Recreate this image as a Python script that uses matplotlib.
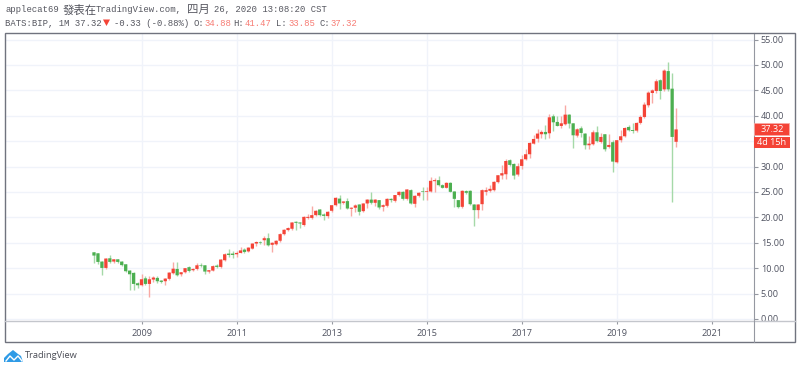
# BIP monthly candles, TradingView snapshot

import matplotlib
matplotlib.use("Agg")
import numpy as np
import matplotlib.pyplot as plt
from matplotlib.patches import Rectangle, Polygon

# Monthly bars, Jan 2008 to Apr 2020
opens = [13.13, 12.93, 11.3, 10.05, 11.95, 11.3, 11.75, 11.3, 10.77, 9.53, 9.07, 7.03,
         6.64, 8.0, 6.9, 7.76, 8.08, 7.56, 7.43, 7.9, 9.0, 9.85, 8.8, 9.2,
         10.2, 9.6, 9.85, 10.57, 10.57, 9.33, 9.53, 10.5, 10.25, 11.56, 12.87, 12.87,
         12.74, 13.0, 13.65, 13.3, 13.85, 14.85, 15.1, 15.5, 15.9, 14.6, 14.7, 15.4,
         16.7, 17.5, 17.76, 19.13, 19.0, 18.5, 19.9, 19.9, 20.44, 21.56, 20.57, 20.25,
         21.3, 22.4, 23.7, 22.87, 23.2, 21.7, 21.9, 22.54, 21.23, 22.74, 23.5, 22.87,
         23.4, 22.08, 22.28, 23.65, 23.26, 24.4, 25.03, 23.65, 25.36, 22.67, 24.25, 25.1,
         25.03, 25.1, 27.13, 27.33, 26.34, 25.82, 26.8, 25.1, 23.4, 22.08, 25.17, 25.23,
         22.54, 21.43, 22.6, 25.03, 25.23, 25.36, 26.94, 28.25, 28.49, 31.25, 30.52, 28.43,
         30.13, 31.44, 32.43, 34.52, 35.5, 36.37, 36.82, 36.56, 39.9, 38.79, 38.0, 38.33,
         40.23, 38.52, 36.1, 37.54, 36.5, 34.2, 34.4, 36.75, 34.85, 36.37, 33.87, 34.8,
         30.85, 35.2, 35.97, 37.8, 37.2, 37.08, 38.6, 39.77, 42.07, 44.49, 44.89, 47.0,
         45.2, 48.8, 45.34, 34.88]
highs = [13.2, 13.0, 11.4, 12.0, 12.55, 11.9, 11.9, 11.5, 10.9, 9.7, 9.2, 7.3,
         8.93, 8.5, 8.5, 8.4, 8.4, 7.7, 8.1, 9.3, 11.2, 11.2, 9.3, 10.1,
         10.4, 10.0, 11.1, 11.1, 10.7, 9.7, 10.7, 10.8, 11.8, 12.9, 13.85, 13.4,
         13.4, 14.25, 14.0, 14.2, 15.0, 15.4, 15.3, 16.3, 16.9, 15.2, 15.6, 16.9,
         17.7, 18.1, 19.1, 19.2, 19.1, 20.2, 20.64, 22.2, 21.5, 21.7, 20.8, 21.2,
         22.5, 24.0, 24.5, 23.3, 23.9, 22.0, 22.6, 22.7, 22.9, 23.7, 24.9, 23.6,
         23.5, 22.6, 23.8, 23.9, 24.5, 25.2, 25.1, 25.6, 25.5, 24.4, 25.0, 25.9,
         26.0, 28.0, 27.85, 28.1, 26.5, 27.0, 27.0, 25.2, 23.5, 25.4, 25.4, 25.3,
         22.7, 22.7, 25.5, 26.0, 26.3, 27.1, 28.4, 30.26, 31.57, 31.4, 30.7, 30.72,
         32.23, 33.54, 34.8, 36.16, 37.47, 37.15, 38.13, 40.3, 40.43, 39.97, 40.0, 42.07,
         40.3, 38.6, 37.5, 37.93, 36.6, 36.0, 37.15, 38.0, 36.7, 36.5, 36.5, 35.3,
         35.3, 37.28, 37.7, 38.2, 38.6, 38.7, 40.23, 42.7, 44.9, 45.34, 47.3, 47.25,
         49.15, 50.5, 48.5, 41.47]
lows = [11.03, 10.9, 8.74, 9.9, 11.1, 11.03, 11.1, 10.4, 9.2, 5.66, 5.66, 6.18,
        6.5, 6.64, 4.35, 7.3, 7.1, 7.1, 6.64, 7.7, 8.8, 8.5, 8.4, 9.1,
        9.3, 9.4, 9.7, 10.3, 8.93, 9.1, 9.4, 10.1, 10.1, 11.4, 12.2, 12.08,
        12.2, 12.9, 13.0, 13.1, 13.7, 14.4, 14.8, 14.5, 14.4, 13.2, 14.5, 15.2,
        16.5, 17.3, 17.6, 17.6, 17.9, 18.3, 19.7, 19.6, 20.3, 20.3, 19.46, 19.8,
        21.1, 22.2, 21.56, 22.6, 21.6, 20.3, 21.1, 20.44, 21.0, 21.75, 22.7, 22.3,
        21.56, 21.23, 22.1, 23.1, 23.1, 24.2, 23.5, 23.4, 22.6, 21.95, 24.0, 23.4,
        23.4, 25.0, 25.0, 26.2, 25.7, 25.7, 24.9, 22.08, 21.9, 21.9, 24.7, 22.5,
        18.28, 19.92, 21.4, 24.5, 25.0, 25.2, 26.7, 27.6, 27.64, 30.2, 27.64, 28.2,
        29.6, 31.3, 31.7, 34.4, 34.85, 35.7, 35.5, 35.7, 37.0, 37.9, 37.67, 38.2,
        37.67, 33.67, 35.84, 35.84, 33.41, 33.54, 34.3, 34.9, 34.7, 33.0, 33.67, 28.95,
        30.7, 34.9, 35.8, 37.0, 36.69, 36.9, 38.4, 39.6, 41.74, 42.6, 44.5, 43.25,
        44.9, 44.9, 23.05, 33.85]
closes = [12.48, 11.23, 10.05, 11.9, 11.23, 11.75, 11.23, 10.6, 9.4, 8.8, 6.9, 6.64,
          7.82, 6.9, 7.82, 8.15, 7.43, 7.3, 7.95, 9.13, 9.9, 8.6, 9.2, 10.0,
          9.45, 9.85, 10.57, 10.5, 9.33, 9.6, 10.4, 10.25, 11.7, 12.74, 12.6, 12.6,
          13.0, 13.5, 13.2, 14.05, 14.85, 15.15, 15.0, 15.9, 14.5, 15.0, 15.4, 16.7,
          17.56, 17.9, 19.0, 18.93, 18.8, 20.1, 20.1, 20.44, 21.3, 20.44, 20.3, 21.1,
          22.4, 23.85, 22.74, 23.13, 21.75, 21.9, 22.35, 21.1, 22.74, 23.5, 22.87, 23.5,
          21.95, 22.4, 23.65, 23.4, 24.4, 25.03, 23.65, 25.5, 22.74, 24.25, 24.84, 25.03,
          25.17, 27.2, 27.33, 26.34, 25.82, 26.8, 25.03, 23.65, 22.02, 25.23, 24.84, 22.6,
          21.43, 22.54, 25.36, 25.36, 25.62, 27.0, 28.3, 28.7, 31.1, 30.33, 28.23, 30.07,
          31.44, 32.43, 34.66, 35.44, 36.5, 36.82, 36.37, 39.7, 38.72, 38.0, 38.52, 40.23,
          38.46, 36.16, 37.34, 36.62, 34.2, 34.52, 36.75, 35.0, 35.84, 33.41, 34.26, 30.98,
          35.2, 35.97, 37.6, 37.15, 37.02, 38.6, 39.77, 42.2, 44.56, 45.0, 46.8, 44.89,
          48.9, 45.2, 35.84, 37.32]

# 35.00 sits under the countdown tag in the snapshot, so it has no label
price_ticks = [0, 5, 10, 15, 20, 25, 30, 35, 40, 45, 50, 55]
price_labels = ["0.00", "5.00", "10.00", "15.00", "20.00", "25.00", "30.00", "",
                "40.00", "45.00", "50.00", "55.00"]
year_labels = ["2009", "2011", "2013", "2015", "2017", "2019", "2021"]
year_bars = [12, 36, 60, 84, 108, 132, 156]

UP = "#f44336"
DOWN = "#4caf50"
UP_WICK = "#f9a9a4"
DOWN_WICK = "#a5d9a8"
GRID = "#f0f3fa"
TEXT = "#4f5260"
AXIS = "#9598a1"
CJK = "Noto Sans CJK TC"
MONO = "Liberation Mono"

plt.rcParams["font.family"] = ["Open Sans", "DejaVu Sans"]

fig = plt.figure(figsize=(8, 3.7), dpi=100)

# Main pane, placed on the pixel layout of the snapshot
ax = fig.add_axes([5 / 800, 1 - 321 / 370, 749 / 800, 288 / 370])
ax.set_xlim(-22.47, 166.67)
ax.set_ylim(-0.4, 56.3)
ax.set_axisbelow(True)
ax.grid(True, color=GRID, lw=1)

bars = np.arange(len(opens))
o = np.array(opens)
c = np.array(closes)
rising = c >= o
# Wicks go under the bodies
ax.vlines(bars, lows, highs, zorder=2,
          colors=[UP_WICK if r else DOWN_WICK for r in rising], lw=1.0)
ax.bar(bars, np.maximum(np.abs(c - o), 0.12), bottom=np.minimum(o, c), width=0.82, zorder=3,
       color=[UP if r else DOWN for r in rising], linewidth=0, snap=False)

for side in ["top", "left"]:
    ax.spines[side].set_visible(False)
ax.spines["right"].set_color(AXIS)
ax.spines["bottom"].set_visible(False)

ax.yaxis.tick_right()
ax.set_yticks(price_ticks)
ax.set_yticklabels(price_labels)
ax.set_xticks(year_bars)
ax.set_xticklabels(year_labels)
ax.tick_params(axis="y", length=3, width=0.8, color=AXIS, labelcolor=TEXT, labelsize=6.6, pad=2)
ax.tick_params(axis="x", length=2.5, width=0.8, color=AXIS, labelcolor=TEXT, labelsize=6.6, pad=3)

# Everything around the pane is laid out in pixels on a full-figure overlay
over = fig.add_axes([0, 0, 1, 1], facecolor="none")
over.set_xlim(0, 800)
over.set_ylim(370, 0)
over.axis("off")

# The time axis strip cuts the lower half of the 0.00 label
over.add_patch(Rectangle((755, 321), 39, 20, fc="white", ec="none"))
over.plot([5, 795], [321, 321], color="#c4c6cc", lw=1)
over.add_patch(Rectangle((5, 33), 790, 309, fill=False, ec="#70737e", lw=1))
over.plot([754, 754], [321, 342], color=AXIS, lw=0.8)

# Last price and countdown tags
over.add_patch(Rectangle((754, 123), 35, 12, fc=UP, ec="#f9a9a4", lw=0.6))
over.text(772, 129, "37.32", color="white", fontsize=6.6, ha="center", va="center")
over.add_patch(Rectangle((754, 136.5), 36, 11.5, fc=UP, ec="none"))
over.text(772, 142.3, "4d 15h", color="white", fontsize=6.6, ha="center", va="center")

# Two header lines
head = {"color": "#55565f", "va": "center", "fontsize": 6.4, "family": MONO}
over.text(5, 10, "applecat69", **head)
over.text(63, 10, "發表在", color="#55565f", va="center", fontsize=8.2, family=CJK)
over.text(96, 10, "TradingView.com,", **head)
over.text(187, 10, "四月", color="#55565f", va="center", fontsize=8.2, family=CJK)
over.text(214, 10, "26, 2020 13:08:20 CST", **head)

over.text(5, 23.5, "BATS:BIP, 1M 37.32", **head)
over.add_patch(Polygon([[103, 19.5], [110, 19.5], [106.5, 26]], closed=True, fc=UP, ec="none"))
over.text(113.5, 23.5, "-0.33 (-0.88%)", **head)
for lx, name, vx, val in [(193, "O:", 204, "34.88"), (233.5, "H:", 245, "41.47"),
                          (276, "L:", 288, "33.85"), (319, "C:", 330, "37.32")]:
    over.text(lx, 23.5, name, **head)
    over.text(vx, 23.5, val, color="#f77c74", va="center", fontsize=6.4, family=MONO)

# Logo and wordmark
over.add_patch(Polygon([[4, 362], [4, 358], [8, 354], [13, 350], [18, 354], [21, 356], [23, 362]],
                       closed=True, fc="#2f9be6", ec="none"))
over.plot([6, 10, 14, 18, 22], [361, 356, 360, 356, 361], color="white", lw=1)
over.text(25, 356, "TradingView", color="#4a4c55", va="center", fontsize=6.7)

fig.savefig("out.png", dpi=100)
